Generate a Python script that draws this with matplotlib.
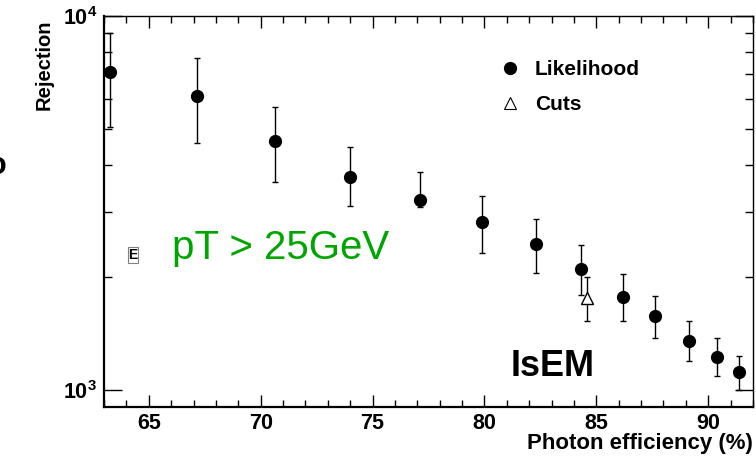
"""Photon rejection versus efficiency, IsEM, pT > 25 GeV."""

import numpy as np
import matplotlib
matplotlib.use("Agg")
import matplotlib.pyplot as plt
from matplotlib.lines import Line2D
from matplotlib.ticker import FixedLocator, NullFormatter


plt.rcParams["font.family"] = ["Liberation Sans", "DejaVu Sans"]
plt.rcParams["mathtext.fontset"] = "custom"
plt.rcParams["mathtext.rm"] = "Liberation Sans:bold"
plt.rcParams["mathtext.it"] = "Liberation Sans:italic"

# Likelihood points (efficiency %, rejection, lower and upper error ends)
lh_eff = [63.26, 67.14, 70.63, 73.97, 77.1, 79.9, 82.3, 84.3, 86.2, 87.63, 89.12, 90.39, 91.38]
lh_rej = [7080, 6110, 4640, 3706, 3221, 2818, 2456, 2106, 1776, 1580, 1355, 1228, 1115]
lh_low = [5050, 4570, 3606, 3111, 3080, 2320, 2059, 1796, 1531, 1375, 1195, 1090, 1000]
lh_high = [9005, 7730, 5720, 4457, 3820, 3311, 2865, 2438, 2037, 1787, 1531, 1375, 1235]

# Cuts point
cut_eff = [84.58]
cut_rej = [1758]
cut_low = [1531]
cut_high = [2010]

x_major = [65, 70, 75, 80, 85, 90]
x_minor = list(range(63, 93))
y_minor = [2000, 3000, 4000, 5000, 6000, 7000, 8000, 9000]


def asym_err(val, low, high):
    val = np.array(val, dtype=float)
    return np.vstack([val - np.array(low), np.array(high) - val])


fig = plt.figure(figsize=(7.56, 4.62), dpi=100)
ax = fig.add_axes([104 / 756, 1 - 407 / 462, 649 / 756, 391 / 462])

ax.errorbar(lh_eff, lh_rej, yerr=asym_err(lh_rej, lh_low, lh_high), xerr=0.12,
            fmt="o", color="black", ms=8.5, elinewidth=1.0, capsize=2.5,
            capthick=1.0, zorder=3)
ax.errorbar(cut_eff, cut_rej, yerr=asym_err(cut_rej, cut_low, cut_high),
            fmt="^", color="black", mfc="white", mec="black", ms=9,
            elinewidth=1.0, capsize=2.5, capthick=1.0, zorder=4)

ax.set_yscale("log")
ax.set_xlim(63, 92)
ax.set_ylim(901, 10000)

ax.xaxis.set_major_locator(FixedLocator(x_major))
ax.xaxis.set_minor_locator(FixedLocator(x_minor))
ax.yaxis.set_major_locator(FixedLocator([1000, 10000]))
ax.yaxis.set_minor_locator(FixedLocator(y_minor))
ax.yaxis.set_minor_formatter(NullFormatter())
ax.set_yticklabels([r"$10^{3}$", r"$10^{4}$"])

ax.tick_params(axis="both", which="both", direction="in", top=True, right=True,
               labelsize=15.5, colors="black")
ax.tick_params(axis="x", which="major", length=8.5, width=1.0, pad=4)
ax.tick_params(axis="x", which="minor", length=5, width=1.0)
ax.tick_params(axis="y", which="major", length=13, width=1.0, pad=5)
ax.tick_params(axis="y", which="minor", length=6, width=1.0)
for lbl in ax.get_xticklabels():
    lbl.set_fontweight("bold")

for side in ["left", "bottom"]:
    ax.spines[side].set_linewidth(1.6)
for side in ["top", "right"]:
    ax.spines[side].set_linewidth(1.0)

# Axis titles
fig.text(753 / 756, 1 - 444 / 462, "Photon efficiency (%)", ha="right",
         va="center", fontsize=16, fontweight="bold")
fig.text(44 / 756, 1 - 20 / 462, "Rejection", ha="center", va="top",
         rotation=90, fontsize=14.5, fontweight="bold")

# Legend
handles = [
    Line2D([], [], ls="none", marker="o", color="black", ms=8.5),
    Line2D([], [], ls="none", marker="^", mfc="white", mec="black", ms=8,
           mew=0.8),
]
ax.legend(handles, ["Likelihood", "Cuts"], loc="upper left",
          bbox_to_anchor=(385 / 649, 1 - 36 / 391), frameon=False,
          prop=dict(size=15, weight="bold"), handletextpad=0.6,
          labelspacing=0.75, handlelength=1.2, borderaxespad=0)

# Annotations
fig.text(172 / 756, 1 - 248 / 462, "pT > 25GeV", fontsize=29,
         color=(0.0, 0.65, 0.0), ha="left", va="center")
fig.text(553 / 756, 1 - 366 / 462, "IsEM", fontsize=26, fontweight="bold",
         ha="center", va="center")
fig.text(133 / 756, 1 - 255 / 462, "E", fontsize=10, fontweight="bold",
         ha="center", va="center",
         bbox=dict(boxstyle="square,pad=0.05", fc="white", ec="gray", lw=0.8))
fig.text(-12 / 756, 1 - 166 / 462, "o", fontsize=22, fontweight="bold",
         ha="left", va="center")

fig.savefig("out.png", dpi=100)
